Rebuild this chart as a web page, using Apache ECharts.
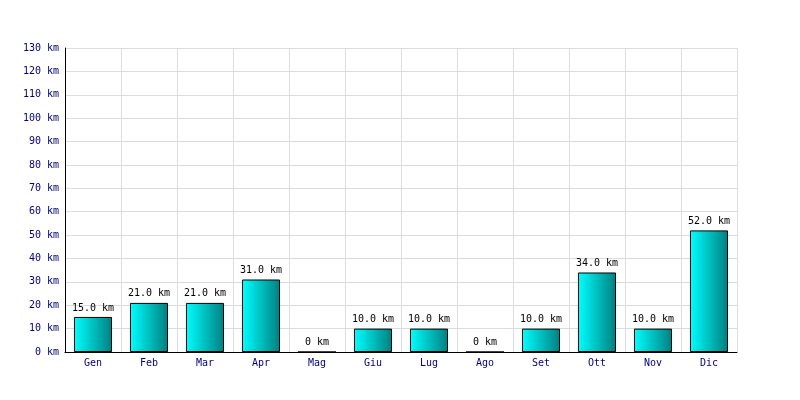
<!DOCTYPE html>
<html><head><meta charset="utf-8">
<script src="https://cdn.jsdelivr.net/npm/echarts@6/dist/echarts.min.js"></script>
<style>html,body{margin:0;padding:0;background:#fff}#c{width:800px;height:400px}</style>
</head><body><div id="c"></div>
<script>
const categories = ['Gen','Feb','Mar','Apr','Mag','Giu','Lug','Ago','Set','Ott','Nov','Dic'];
const values = [15, 21, 21, 31, 0, 10, 10, 0, 10, 34, 10, 52];
const yMin = 0, yMax = 130, yStep = 10;
const font = 'DejaVu Sans Mono';
const chart = echarts.init(document.getElementById('c'), null, {renderer:'canvas'});
chart.setOption({
  animation: false,
  backgroundColor: '#fff',
  grid: {left: 65, right: 63, top: 48, bottom: 48, containLabel: false},
  xAxis: {
    type: 'category', data: categories,
    axisLine: {show: true, lineStyle: {color: '#000', width: 1}},
    axisTick: {show: false},
    axisLabel: {color: '#000080', fontFamily: font, fontSize: 10, margin: 6},
    splitLine: {show: true, interval: 0, lineStyle: {color: '#dcdcdc', width: 1}}
  },
  yAxis: {
    type: 'value', min: yMin, max: yMax, interval: yStep,
    axisLine: {show: true, lineStyle: {color: '#000', width: 1}},
    axisTick: {show: false},
    axisLabel: {color: '#000080', fontFamily: font, fontSize: 10, margin: 6, formatter: v => v + ' km'},
    splitLine: {show: true, lineStyle: {color: '#dcdcdc', width: 1}}
  },
  series: [{
    type: 'bar', data: values, barWidth: '68%',
    itemStyle: {
      borderColor: '#000', borderWidth: 1,
      color: new echarts.graphic.LinearGradient(0, 0, 1, 0, [
        {offset: 0, color: '#00ffff'}, {offset: 1, color: '#008080'}
      ])
    },
    label: {
      show: true, position: 'top', distance: 4, color: '#000', fontFamily: font, fontSize: 10,
      formatter: p => p.value === 0 ? '0 km' : p.value.toFixed(1) + ' km'
    }
  }]
});
</script></body></html>
